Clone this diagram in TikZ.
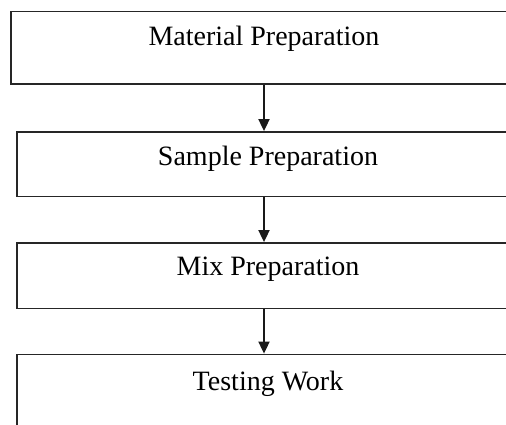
\documentclass[tikz,border=0pt]{standalone}
\usepackage{fontspec}
\setmainfont{Liberation Serif}
\usetikzlibrary{arrows.meta}
\begin{document}
\begin{tikzpicture}[x=1pt,y=1pt,
  stagebox/.style={draw=black!85, line width=1.8pt, rectangle, inner xsep=0pt, inner ysep=0pt,
    font=\fontsize{28}{34}\selectfont, anchor=center},
  flow/.style={draw=black!90, line width=1.8pt, -{Triangle[length=12pt,width=11pt]}}]
  \useasboundingbox (0,0) rectangle (506,-424);
  \clip (0,0) rectangle (506,-424);
  \node[stagebox, minimum width=506pt, text height=33.5pt, text depth=39pt]
    (mat) at (264,-47.75) {Material Preparation};
  \node[stagebox, minimum width=502pt, text height=33pt, text depth=31.5pt]
    (smp) at (268,-164.25) {Sample Preparation};
  \node[stagebox, minimum width=502pt, text height=32pt, text depth=33.5pt]
    (mix) at (268,-275.75) {Mix Preparation};
  \node[stagebox, minimum width=502pt, text height=35.5pt, text depth=40pt]
    (tst) at (268,-392.25) {Testing Work};
  \draw[flow] (mat.south) -- (mat.south |- smp.north);
  \draw[flow] (mat.south |- smp.south) -- (mat.south |- mix.north);
  \draw[flow] (mat.south |- mix.south) -- (mat.south |- tst.north);
\end{tikzpicture}
\end{document}
